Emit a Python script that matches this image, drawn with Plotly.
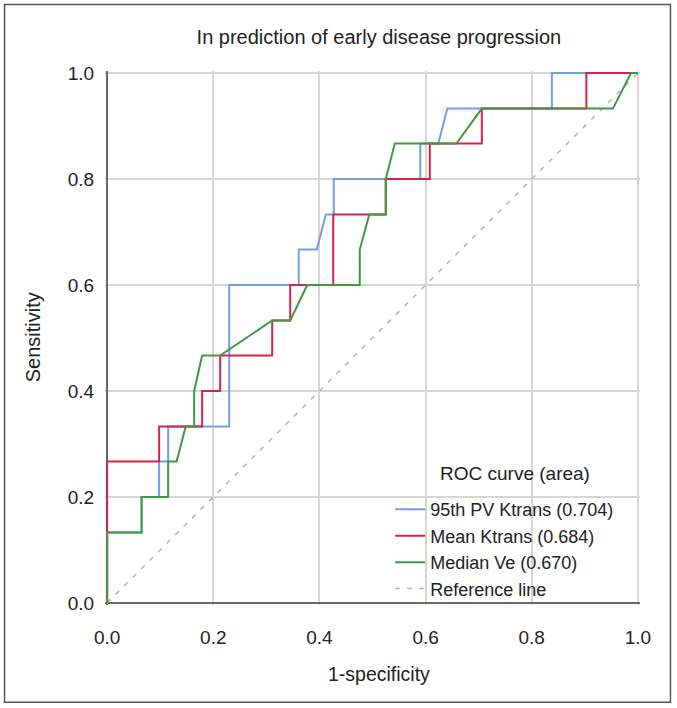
import plotly.graph_objects as go

# ---- data ----
series_names = ["95th PV Ktrans (0.704)", "Mean Ktrans (0.684)", "Median Ve (0.670)"]

fpr_pv95 = [0, 0, 0.065, 0.065, 0.098, 0.098, 0.115, 0.115, 0.230, 0.230, 0.361, 0.361,
            0.395, 0.412, 0.427, 0.427, 0.590, 0.590, 0.624, 0.641, 0.838, 0.838, 1.0]
tpr_pv95 = [0, 0.133, 0.133, 0.2, 0.2, 0.267, 0.267, 0.333, 0.333, 0.6, 0.6, 0.667,
            0.667, 0.733, 0.733, 0.8, 0.8, 0.867, 0.867, 0.933, 0.933, 1.0, 1.0]

fpr_mean = [0, 0, 0.098, 0.098, 0.179, 0.179, 0.213, 0.213, 0.311, 0.311, 0.345, 0.345,
            0.426, 0.426, 0.525, 0.525, 0.608, 0.608, 0.706, 0.706, 0.903, 0.903, 1.0]
tpr_mean = [0, 0.267, 0.267, 0.333, 0.333, 0.4, 0.4, 0.467, 0.467, 0.533, 0.533, 0.6,
            0.6, 0.733, 0.733, 0.8, 0.8, 0.867, 0.867, 0.933, 0.933, 1.0, 1.0]

fpr_ve = [0, 0, 0.065, 0.065, 0.115, 0.115, 0.131, 0.148, 0.164, 0.164, 0.179, 0.213, 0.311,
          0.345, 0.377, 0.476, 0.476, 0.494, 0.525, 0.525, 0.542, 0.658, 0.706, 0.953, 0.987, 1.0]
tpr_ve = [0, 0.133, 0.133, 0.2, 0.2, 0.267, 0.267, 0.333, 0.333, 0.4, 0.467, 0.467, 0.533,
          0.533, 0.6, 0.6, 0.667, 0.733, 0.733, 0.8, 0.867, 0.867, 0.933, 0.933, 1.0, 1.0]

ref_x = [0, 1]
ref_y = [0, 1]

tick_vals = [0.0, 0.2, 0.4, 0.6, 0.8, 1.0]
tick_text = ["0.0", "0.2", "0.4", "0.6", "0.8", "1.0"]

FONT = "Liberation Sans, Arial, sans-serif"
TXT = "#222222"

fig = go.Figure()
fig.add_trace(go.Scatter(x=ref_x, y=ref_y, mode="lines", name="Reference line",
                         line=dict(color="#b4b4b4", width=1.5, dash="5px,7px"),
                         legendrank=4))
fig.add_trace(go.Scatter(x=fpr_pv95, y=tpr_pv95, mode="lines", name=series_names[0],
                         line=dict(color="#6f9fe0", width=2), legendrank=1))
fig.add_trace(go.Scatter(x=fpr_mean, y=tpr_mean, mode="lines", name=series_names[1],
                         line=dict(color="#d8224c", width=2), legendrank=2))
fig.add_trace(go.Scatter(x=fpr_ve, y=tpr_ve, mode="lines", name=series_names[2],
                         line=dict(color="#3f9a3c", width=2), legendrank=3))

axis_common = dict(
    range=[-0.004, 1.004],
    tickvals=tick_vals, ticktext=tick_text,
    showgrid=True, gridcolor="#d6d6d6", gridwidth=1.5,
    zeroline=True, zerolinecolor="#6a6a6a", zerolinewidth=2,
    showline=False,
    ticks="outside", tickcolor="rgba(0,0,0,0)",
    tickfont=dict(family=FONT, size=19, color=TXT),
    fixedrange=True,
)

fig.update_layout(
    width=677, height=708,
    margin=dict(l=104.6, r=36.6, t=70.6, b=103.2),
    paper_bgcolor="white", plot_bgcolor="white",
    font=dict(family=FONT, color=TXT),
    title=dict(text="In prediction of early disease progression",
               font=dict(family=FONT, size=20, color=TXT),
               xref="paper", x=0.512, xanchor="center",
               yref="container", y=1 - 37 / 708, yanchor="middle"),
    xaxis=dict(axis_common, ticklen=15),
    yaxis=dict(axis_common, ticklen=6),
    showlegend=True,
    legend=dict(x=0.533, xanchor="left", y=-0.004, yanchor="bottom",
                bgcolor="rgba(0,0,0,0)", borderwidth=0,
                font=dict(family=FONT, size=18, color=TXT),
                traceorder="normal"),
    annotations=[
        dict(text="ROC curve (area)", xref="paper", yref="paper",
             x=(438 - 104.6) / 535.9, y=(604.8 - 473) / 534.2,
             xanchor="left", yanchor="middle", showarrow=False,
             font=dict(family=FONT, size=19, color=TXT)),
        dict(text="1-specificity", xref="paper", yref="paper",
             x=(379.5 - 104.6) / 535.9, y=(604.8 - 673.5) / 534.2,
             xanchor="center", yanchor="middle", showarrow=False,
             font=dict(family=FONT, size=19.5, color=TXT)),
        dict(text="Sensitivity", xref="paper", yref="paper",
             x=(32 - 104.6) / 535.9, y=(604.8 - 337.5) / 534.2,
             xanchor="center", yanchor="middle", showarrow=False, textangle=-90,
             font=dict(family=FONT, size=20, color=TXT)),
    ],
    shapes=[
        dict(type="rect", xref="paper", yref="paper",
             x0=(4 - 104.6) / 535.9, x1=(671 - 104.6) / 535.9,
             y0=(604.8 - 702) / 534.2, y1=(604.8 - 4) / 534.2,
             line=dict(color="#555555", width=1.5), fillcolor="rgba(0,0,0,0)",
             layer="below"),
    ],
)

fig.write_html("out.html",
               config={"displayModeBar": False},
               post_script="document.body.style.margin='0';document.body.style.padding='0';")
